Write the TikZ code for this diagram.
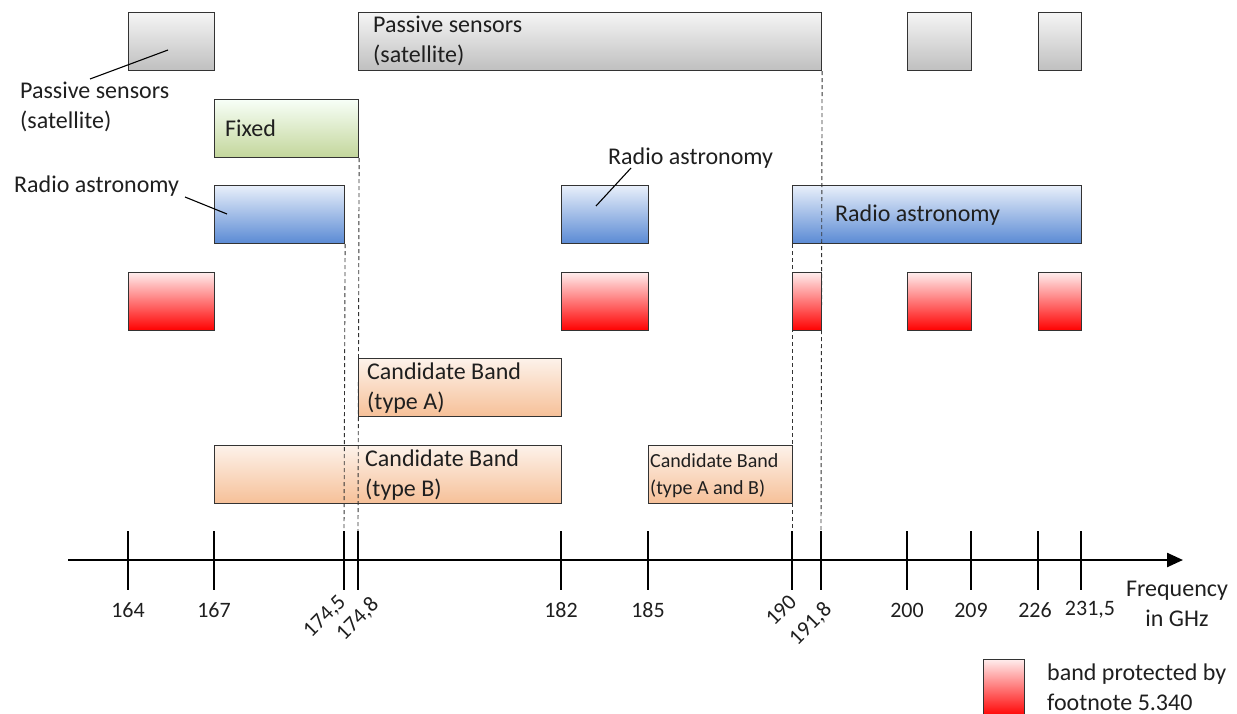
\documentclass[tikz,border=0pt]{standalone}
\usepackage{fontspec}
\setmainfont{Carlito}
\usetikzlibrary{arrows.meta}
\tikzset{
  band/.style={draw=black!80, line width=1.1pt, anchor=north west, inner sep=0pt, shading=axis},
  graybox/.style={band, top color=black!4, bottom color=black!25},
  greenbox/.style={band, top color=green!3!white, bottom color={rgb,255:red,195;green,214;blue,155}},
  bluebox/.style={band, top color={rgb,255:red,232;green,239;blue,250}, bottom color={rgb,255:red,90;green,138;blue,212}},
  redbox/.style={band, top color={rgb,255:red,255;green,236;blue,236}, bottom color={rgb,255:red,255;green,0;blue,0}},
  orangebox/.style={band, top color={rgb,255:red,253;green,242;blue,234}, bottom color={rgb,255:red,246;green,192;blue,152}},
  lbl/.style={anchor=west, inner sep=0pt, align=left, text=black!88, font=\fontsize{24}{30}\selectfont},
  smalllbl/.style={lbl, font=\fontsize{20}{27}\selectfont},
  num/.style={inner sep=0pt, text=black!88, font=\fontsize{22}{26}\selectfont},
  rnum/.style={num, anchor=north east},
  tick/.style={line width=2.4pt, black},
  guide/.style={dashed, line width=0.9pt, black!80, dash pattern=on 4pt off 3pt},
  leader/.style={line width=1.1pt, black}
}
\newcommand\bandbox[6]{%
  \pgfmathsetmacro\bw{#4-#3}\pgfmathsetmacro\bh{#6-#5}%
  \node[#2, minimum width=\bw pt, minimum height=\bh pt] (#1) at (#3,#5) {};}
\begin{document}
\begin{tikzpicture}[x=1pt, y=-1pt]
\useasboundingbox (0,0) rectangle (1237,714);
% gray row
\bandbox{g1}{graybox}{128}{214}{12}{70}
\bandbox{g2}{graybox}{358}{821}{12}{70}
\bandbox{g3}{graybox}{907}{971}{12}{70}
\bandbox{g4}{graybox}{1038}{1081}{12}{70}
% fixed
\bandbox{fx}{greenbox}{214}{358}{99}{157}
% blue row
\bandbox{b1}{bluebox}{214}{344}{185}{243}
\bandbox{b2}{bluebox}{561}{648}{185}{243}
\bandbox{b3}{bluebox}{792}{1081}{185}{243}
% red row
\bandbox{r1}{redbox}{128}{214}{272}{330}
\bandbox{r2}{redbox}{561}{648}{272}{330}
\bandbox{r3}{redbox}{792}{821}{272}{330}
\bandbox{r4}{redbox}{907}{971}{272}{330}
\bandbox{r5}{redbox}{1038}{1081}{272}{330}
% candidates
\bandbox{ca}{orangebox}{358}{561}{358}{416}
\bandbox{cb}{orangebox}{214}{561}{445}{503}
\bandbox{cab}{orangebox}{648}{792}{445}{503}
% legend
\bandbox{lg}{redbox}{983}{1024}{659}{716}

% texts inside boxes
\node[lbl] (tg2) at (373,41) {Passive sensors\\(satellite)};
\node[lbl] (tfx) at (225,128) {Fixed};
\node[lbl] (tb3) at (835,215) {Radio astronomy};
\node[lbl] (tca) at (367,388) {Candidate Band\\(type A)};
\node[lbl] (tcb) at (365,475) {Candidate Band\\(type B)};
\node[smalllbl] (tcab) at (650,476) {Candidate Band\\(type A and B)};
\node[lbl] (tlg) at (1047,687) {band protected by\\footnote 5.340};

% outside labels with leaders
\node[lbl] (tps) at (20,107) {Passive sensors\\(satellite)};
\node[lbl] (tra1) at (14,186) {Radio astronomy};
\node[lbl] (tra2) at (608,158) {Radio astronomy};
\coordinate (ps1) at (90,79);   \coordinate (ps2) at (168,50);
\coordinate (ra1) at (185,197); \coordinate (ra2) at (227,214);
\coordinate (rb1) at (631,168); \coordinate (rb2) at (596,206);
\draw[leader] (ps1) -- (ps2);
\draw[leader] (ra1) -- (ra2);
\draw[leader] (rb1) -- (rb2);

% axis
\coordinate (ax0) at (68,560);
\coordinate (ax1) at (1183,560);
\draw[line width=2.4pt, -{Triangle[length=16pt,width=14pt]}] (ax0) -- (ax1);
\foreach \n/\x in {164/128,167/214,1745/344,1748/358,182/561,185/648,190/792,1918/821,200/907,209/971,226/1038,2315/1081}{
  \coordinate (t\n) at (\x,531);
  \coordinate (u\n) at (\x,590);
  \draw[tick] (t\n) -- (u\n);
}
% numbers
\foreach \n/\x/\s in {164/128/164,167/214/167,182/561/182,185/648/185,200/907/200,209/971/209,226/1035/226,2315/1090/{231,5}}{
  \node[num] (n\n) at (\x,610) {\s};
}
\node[rnum] (n1745) at (349,593) {\rotatebox{45}{174,5}};
\node[rnum] (n1748) at (382,595) {\rotatebox{45}{174,8}};
\node[rnum] (n190) at (798,593) {\rotatebox{45}{190}};
\node[rnum] (n1918) at (835,600) {\rotatebox{45}{191,8}};
\node[lbl, anchor=center, align=center] (freq) at (1177,604) {Frequency\\in GHz};

% dashed guides
\draw[guide] (b1.south east) -- (t1745);
\draw[guide] (fx.south east) -- (t1748);
\draw[guide] (b3.south west) -- (t190);
\draw[guide] (g2.south east) -- (t1918);
\end{tikzpicture}
\end{document}
